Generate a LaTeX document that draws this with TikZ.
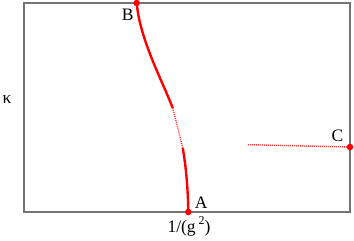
\documentclass[tikz,border=0pt]{standalone}
\usepackage{fontspec}
\setmainfont{Liberation Serif}
\begin{document}
\begin{tikzpicture}[x=1pt,y=-1pt,
  frame/.style={draw=black!55,line width=1.3pt},
  solidcurve/.style={draw=red,line width=2.4pt},
  dotcurve/.style={draw=red!80,line width=1.4pt,dash pattern=on 1pt off 1pt},
  pt/.style={circle,fill=red,inner sep=0pt,minimum size=6.5pt},
  lab/.style={font=\fontsize{17.5}{17.5}\selectfont,inner sep=0pt}]
\useasboundingbox (0,0) rectangle (354,241);
\draw[frame] (24,3) rectangle (350,212);
\coordinate (A) at (188.3,212);
\coordinate (B) at (136.7,3);
\coordinate (C) at (350,147);
\coordinate (P1) at (182.7,148);
\coordinate (P2) at (172.7,108);
\coordinate (Cs) at (248,144.7);
\draw[solidcurve] (A) .. controls (188,185) and (185,160) .. (P1);
\draw[dotcurve] (P1) .. controls (179,133) and (176,120) .. (P2);
\draw[solidcurve] (P2) .. controls (162,80) and (140,40) .. (B);
\draw[dotcurve] (Cs) -- (C);
\node[pt] (Ad) at (A) {};
\node[pt] (Bd) at (B) {};
\node[pt] (Cd) at (C) {};
\node[lab] (Alab) at (201.2,202.5) {A};
\node[lab] (Blab) at (127.7,14.5) {B};
\node[lab] (Clab) at (337.5,135.5) {C};
\node[lab] (klab) at (7,99) {κ};
\node[lab] (xlab) at (189,226.5) {1/(g\,\raisebox{0.45em}{\fontsize{12}{12}\selectfont 2})};
\end{tikzpicture}
\end{document}
